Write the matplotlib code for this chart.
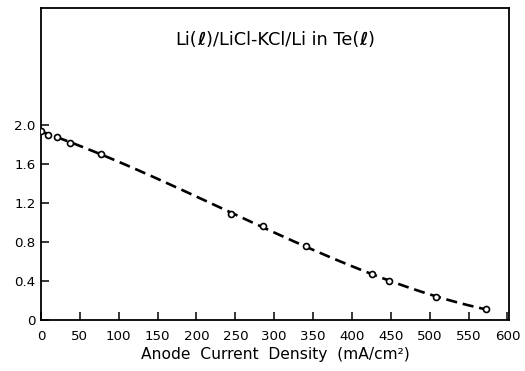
import numpy as np
import matplotlib
matplotlib.use("Agg")
import matplotlib.pyplot as plt
from matplotlib.offsetbox import TextArea, HPacker, AnchoredOffsetbox

plt.rcParams['font.family'] = ['DejaVu Sans']

# Anode current density (mA/cm^2) and cell voltage (V)
current_density = [0, 9, 21, 37, 77, 244, 286, 341, 426, 448, 508, 573]
voltage = [1.94, 1.90, 1.88, 1.82, 1.70, 1.085, 0.965, 0.76, 0.47, 0.395, 0.237, 0.113]

x_ticks = list(range(0, 601, 50))
y_ticks = [0, 0.4, 0.8, 1.2, 1.6, 2.0]
y_tick_labels = ["0", "0.4", "0.8", "1.2", "1.6", "2.0"]

# title pieces: (text, bold?)
title_parts = [("Li(", False), ("\u2113", True), (")/LiCl-KCl/Li in Te(", False),
               ("\u2113", True), (")", False)]
x_label = "Anode  Current  Density  (mA/cm\u00b2)"

fig = plt.figure(figsize=(5.25, 3.71), dpi=100)
ax = fig.add_axes([0.0781, 0.1375, 0.8914, 0.8409])

# smooth fitted trend through the measurements
coef = np.polyfit(current_density, voltage, 3)
xs = np.linspace(min(current_density), max(current_density), 200)
ax.plot(xs, np.polyval(coef, xs), color='black', lw=1.9,
        dashes=(4.2, 2.2), zorder=2)

ax.plot(current_density, voltage, linestyle='none', marker='o',
        markersize=4.3, markerfacecolor='white', markeredgecolor='black',
        markeredgewidth=1.2, zorder=3)

ax.set_xlim(0, 602)
ax.set_ylim(0, 3.2)
ax.set_xticks(x_ticks)
ax.set_xticklabels([str(t) for t in x_ticks], fontsize=9.6)
ax.set_yticks(y_ticks)
ax.set_yticklabels(y_tick_labels, fontsize=9.6)
ax.tick_params(direction='in', length=6, width=1.1, color='black')
ax.tick_params(axis='x', pad=7)
ax.tick_params(axis='y', pad=4)

for s in ax.spines.values():
    s.set_linewidth(1.3)

ax.set_xlabel(x_label, fontsize=11.2, labelpad=3)

# title inside the frame, with bold script ell for the liquid phase
areas = [TextArea(t, textprops=dict(fontsize=12.8, color='black',
                                    fontweight='bold' if b else 'normal'))
         for t, b in title_parts]
pack = HPacker(children=areas, align='baseline', pad=0, sep=0)
box = AnchoredOffsetbox(loc='center', child=pack, pad=0, frameon=False,
                        bbox_to_anchor=(0.5, 0.897),
                        bbox_transform=ax.transAxes, borderpad=0)
ax.add_artist(box)

fig.savefig("out.png", dpi=100)
